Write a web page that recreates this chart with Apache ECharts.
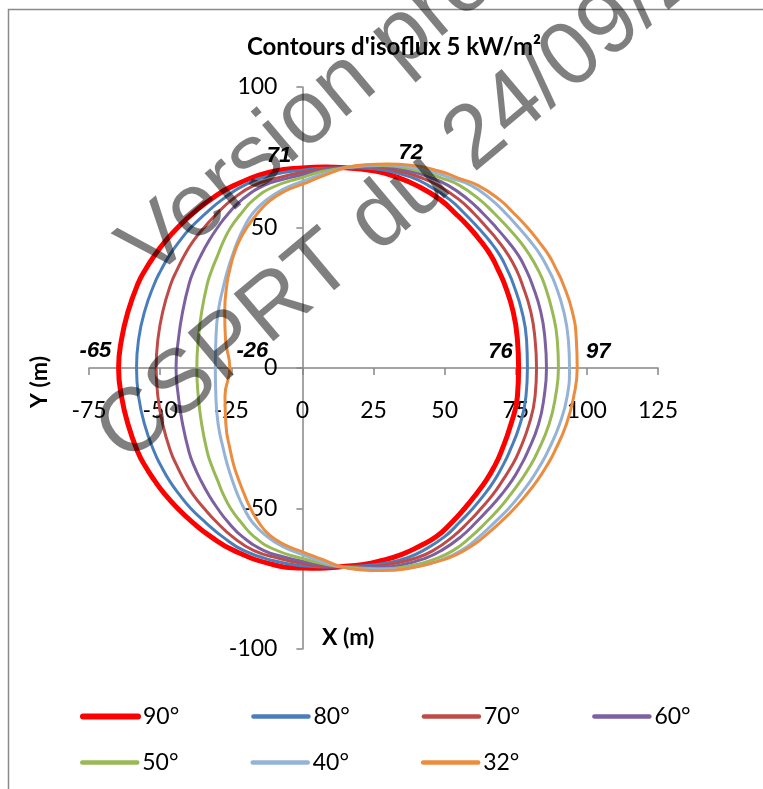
<!DOCTYPE html>
<html><head><meta charset="utf-8">
<script src="https://cdn.jsdelivr.net/npm/echarts@6/dist/echarts.min.js"></script>
<style>html,body{margin:0;padding:0;background:#fff}#c{width:763px;height:789px}</style>
</head><body><div id="c"></div>
<script>
const chartTitle = "Contours d'isoflux 5 kW/m²";
const xTitle = 'X (m)';
const yTitle = 'Y (m)';
const seriesNames = ['90°', '80°', '70°', '60°', '50°', '40°', '32°'];

const s90 = [[15,71.3],[8,71.5],[0,71.2],[-10,70],[-24,65],[-32.2,60],[-38.5,55],[-43.8,50],[-48.3,45],[-52,40],[-55.2,35],[-57.8,30],[-61.3,20],[-63.6,10],[-64.6,0],[-63.6,-10],[-61.3,-20],[-57.8,-30],[-55.2,-35],[-52,-40],[-48.3,-45],[-43.8,-50],[-38.5,-55],[-32.2,-60],[-24,-65],[-10,-70],[0,-71.2],[6,-71.3],[13.5,-70.7],[21,-70],[28,-68.5],[35,-66.3],[41,-63.5],[47.1,-60],[52.5,-55],[57,-50],[61,-45],[64.6,-40],[67.5,-35],[69.8,-30],[73.3,-20],[75.6,-10],[76,0],[75.6,10],[74.1,20],[71,30],[68.8,35],[66.3,40],[62.8,45],[58.7,50],[53.8,55],[48.3,60],[40.1,65],[33,68],[26.1,70],[15,71.3]];
const s80 = [[15,71.3],[7,71.1],[0,70.4],[-10,68.8],[-20.5,65],[-28.1,60],[-34,55],[-39.2,50],[-43.3,45],[-46.8,40],[-49.6,35],[-52,30],[-55.5,20],[-57.6,10],[-58.3,0],[-57.6,-10],[-55.5,-20],[-52,-30],[-49.6,-35],[-46.8,-40],[-43.3,-45],[-39.2,-50],[-34,-55],[-28.1,-60],[-20.5,-65],[-10,-68.6],[0,-70.4],[7,-70.8],[13.5,-70.7],[22,-70.4],[30,-69.3],[37,-67.5],[42.4,-65],[50,-60],[55.2,-55],[59.9,-50],[64,-45],[67.5,-40],[70.3,-35],[72.7,-30],[76.5,-20],[78.6,-10],[79.1,0],[78.8,10],[77.2,20],[74.1,30],[72,35],[69.5,40],[66,45],[61.7,50],[57,55],[51.7,60],[44.2,65],[38,68],[30.8,70],[22,71.2],[15,71.3]];
const s70 = [[15,71.3],[7,70.8],[0,69.6],[-8,67.8],[-17,65],[-24.6,60],[-30,55],[-34.5,50],[-38.5,45],[-41.5,40],[-44,35],[-46.2,30],[-49.1,20],[-50.8,10],[-51.4,0],[-50.8,-10],[-49.1,-20],[-46.2,-30],[-44,-35],[-41.5,-40],[-38.5,-45],[-34.5,-50],[-30,-55],[-24.6,-60],[-17,-65],[-8,-67.8],[0,-69.6],[7,-70.5],[13.5,-70.7],[24,-70.6],[32,-69.6],[40,-67.6],[45.9,-65],[52.9,-60],[58.2,-55],[62.8,-50],[67,-45],[70.4,-40],[73.5,-35],[76,-30],[79.7,-20],[81.8,-10],[82.3,0],[81.8,10],[80.3,20],[77.2,30],[75.2,35],[72.5,40],[69,45],[64.8,50],[60.3,55],[55,60],[47.7,65],[41.5,67.8],[34.3,70],[24,71.6],[15,71.3]];
const s60 = [[15,71.3],[7,70.4],[0,68.8],[-6.5,67.2],[-13.5,65],[-21.1,60],[-26,55],[-29.8,50],[-33,45],[-35.7,40],[-38,35],[-39.8,30],[-42.1,20],[-43.6,10],[-44.4,0],[-43.6,-10],[-42.1,-20],[-39.8,-30],[-38,-35],[-35.7,-40],[-33,-45],[-29.8,-50],[-26,-55],[-21.1,-60],[-13.5,-65],[-6.5,-67.2],[0,-68.8],[7,-70.1],[13.5,-70.7],[26,-71],[35,-70],[43,-67.8],[48.8,-65],[55.8,-60],[61,-55],[65.7,-50],[70,-45],[73.7,-40],[76.6,-35],[79.1,-30],[83,-20],[85,-10],[85.8,0],[85.3,10],[83.8,20],[80.7,30],[78.6,35],[76,40],[72.3,45],[68.1,50],[63.5,55],[58.2,60],[51.2,65],[45,67.8],[37.8,70],[26,71.9],[15,71.3]];
const s50 = [[15,71.3],[7,69.9],[0,67.8],[-10,64.5],[-17,60],[-21.5,55],[-25.2,50],[-27.8,45],[-29.8,40],[-31.8,35],[-33.4,30],[-35.4,20],[-36.6,10],[-37.1,0],[-36.6,-10],[-35.4,-20],[-33.4,-30],[-31.8,-35],[-29.8,-40],[-27.8,-45],[-25.2,-50],[-21.5,-55],[-17,-60],[-10,-64.5],[0,-67.8],[7,-69.6],[13.5,-70.7],[27,-71.4],[38,-70.4],[46.5,-68],[52.9,-65],[59.3,-60],[64.5,-55],[69.2,-50],[73.2,-45],[76.8,-40],[80,-35],[82.6,-30],[86.7,-20],[89,-10],[90,0],[89.6,10],[87.9,20],[85,30],[82.8,35],[80,40],[76.5,45],[72.2,50],[67.5,55],[62.2,60],[55.2,65],[49,67.6],[41.3,70],[28,72.1],[15,71.3]];
const s40 = [[15,71.3],[6,68.6],[0,66.4],[-7,63.5],[-13,59.5],[-17.5,55],[-20.5,50],[-22.8,45],[-24.6,40],[-26.2,35],[-27.5,30],[-29.6,20],[-30.4,10],[-30.6,0],[-30.4,-10],[-29.6,-20],[-27.5,-30],[-26.2,-35],[-24.6,-40],[-22.8,-45],[-20.5,-50],[-17.5,-55],[-13,-59.5],[-7,-63.5],[0,-66.4],[6,-68.6],[13.5,-70.7],[27,-71.7],[40,-70.7],[49,-68.2],[55.8,-65],[62.2,-60],[67.5,-55],[72.5,-50],[76.6,-45],[80.3,-40],[83.4,-35],[86.1,-30],[90.4,-20],[93.1,-10],[93.9,0],[93.5,10],[91.9,20],[88.8,30],[86.5,35],[83.8,40],[80.2,45],[76,50],[71.5,55],[66.3,60],[59.3,65],[52.5,67.5],[44.8,70],[29,72.3],[15,71.3]];
const s32 = [[15,71.3],[7,68.3],[0,65.4],[-6,63],[-11.5,59.5],[-15.8,55],[-19.5,50],[-22.3,45],[-24.2,40],[-25.5,35],[-26.5,30],[-27.3,20],[-27,10],[-25.5,0],[-27.2,-10],[-26.9,-20],[-25.2,-30],[-24,-35],[-22.3,-40],[-20.4,-45],[-18.2,-50],[-15.3,-55],[-11.5,-59.5],[-6,-63],[0,-65.4],[7,-68.1],[13.5,-70.7],[20,-71.8],[28,-72.1],[38,-71.2],[47,-69],[54,-66.5],[60,-63],[65,-59],[70,-54.5],[74.5,-50],[78.8,-45],[82.6,-40],[85.8,-35],[88.5,-30],[92.8,-20],[95.4,-10],[96.6,0],[96.3,10],[94.9,20],[91.6,30],[89.3,35],[86.7,40],[83.1,45],[79.1,50],[74.4,55],[69.2,60],[61.7,65],[55,67.5],[48.3,70],[38,72.2],[30,72.6],[22,72.3],[15,71.3]];

const labelPoints = [[3,71],[37,72],[-65,0],[-26,0],[76,0],[97,0]];
const labelTexts = ['71','72','-65','-26','76','97'];
const watermarkLines = ['Version provisoire', 'CSPRT du 24/09/2014'];

const seriesData = [s90, s80, s70, s60, s50, s40, s32];
const colors = ['#FF0000','#4A7EBB','#BE4B48','#7D60A0','#98B954','#95B3D7','#EB8C3E'];
const widths = [5, 3, 3, 3, 3, 3, 3];
const legendWidths = [6, 4.5, 4.5, 4.5, 4.5, 4.5, 4.5];
const labelOffsets = [[-32,-13],[3,-13],[-22,-17],[24,-17],[-18,-16],[20,-16]];
const FONT = "Lato, 'Liberation Sans', sans-serif";
const axisGray = '#868686';

const chart = echarts.init(document.getElementById('c'), null, {renderer:'canvas'});

const series = seriesData.map((d, i) => ({
  type: 'line', name: seriesNames[i], data: d,
  symbol: 'none', showSymbol: false, smooth: 0.5,
  lineStyle: {color: colors[i], width: widths[i], cap: 'round', join: 'round'},
  itemStyle: {color: colors[i]},
  z: 2 + i
}));
series.push({
  type: 'scatter', name: 'labels', symbolSize: 0, silent: true, z: 20,
  itemStyle: {opacity: 1, color: '#000'},
  data: labelPoints.map((p, i) => ({
    value: p,
    label: {show: true, formatter: labelTexts[i], offset: labelOffsets[i], position: 'inside'}
  })),
  label: {color: '#000', opacity: 1, textBorderWidth: 0, fontSize: 22, fontWeight: 'bold', fontStyle: 'italic',
          fontFamily: "'Liberation Sans', Arial, sans-serif"}
});

const legendItem = (name) => {
  const i = seriesNames.indexOf(name);
  return {name: name, lineStyle: {width: legendWidths[i], cap: 'round', color: colors[i]}};
};
const legendCommon = {
  left: 75, itemWidth: 55, itemHeight: 14, itemGap: 72, orient: 'horizontal',
  textStyle: {fontSize: 23, color: '#000', fontFamily: FONT},
  itemStyle: {color: 'rgba(0,0,0,0)', borderColor: 'rgba(0,0,0,0)', borderWidth: 0, opacity: 0},
  selectedMode: false
};

const option = {
  animation: false,
  backgroundColor: '#fff',
  grid: {left: 89, top: 87, width: 569, height: 562, containLabel: false},
  xAxis: {
    type: 'value', min: -75, max: 125, interval: 25, position: 'bottom', offset: -281,
    axisLine: {show: true, onZero: false, lineStyle: {color: axisGray, width: 1.5}},
    axisTick: {show: true, inside: false, length: 7, lineStyle: {color: axisGray, width: 1.5}},
    axisLabel: {margin: 31, color: '#000', fontSize: 23, fontFamily: FONT, showMinLabel: true, showMaxLabel: true},
    splitLine: {show: false}
  },
  yAxis: {
    type: 'value', min: -100, max: 100, interval: 50, position: 'left', offset: -213.4,
    axisLine: {show: true, onZero: false, lineStyle: {color: axisGray, width: 1.5}},
    axisTick: {show: true, inside: false, length: 6, lineStyle: {color: axisGray, width: 1.5}},
    axisLabel: {margin: 25, color: '#000', fontSize: 23, fontFamily: FONT, showMinLabel: true, showMaxLabel: true},
    splitLine: {show: false}
  },
  legend: [
    Object.assign({}, legendCommon, {top: 700, data: seriesNames.slice(0, 4).map(legendItem)}),
    Object.assign({}, legendCommon, {top: 746, data: seriesNames.slice(4).map(legendItem)})
  ],
  series: series,
  graphic: [
    {type: 'rect', z: -10, silent: true, shape: {x: 8.5, y: 9.5, width: 800, height: 800},
     style: {fill: 'none', stroke: '#8a8a8a', lineWidth: 1.5}},
    {type: 'text', x: 394, y: 47, z: 50, style: {text: chartTitle, textAlign: 'center', textVerticalAlign: 'middle',
      font: "bold 24px " + FONT, fill: '#000'}},
    {type: 'text', x: 40, y: 382, rotation: Math.PI / 2, z: 50, style: {text: yTitle, textAlign: 'center', textVerticalAlign: 'middle',
      font: "bold 23px " + FONT, fill: '#000'}},
    {type: 'text', x: 322, y: 638, z: 50, style: {text: xTitle, textAlign: 'left', textVerticalAlign: 'middle',
      font: "bold 23px " + FONT, fill: '#000'}},
    {type: 'text', x: 134, y: 262, rotation: 40 * Math.PI / 180, z: 100, silent: true,
      style: {text: watermarkLines[0], textAlign: 'left', textVerticalAlign: 'middle',
      font: "90px 'Liberation Sans', Arial, sans-serif", fill: 'rgba(0,0,0,0.5)'}},
    {type: 'text', x: 110, y: 446, rotation: 40 * Math.PI / 180, z: 100, silent: true,
      style: {text: watermarkLines[1], textAlign: 'left', textVerticalAlign: 'middle',
      font: "90px 'Liberation Sans', Arial, sans-serif", fill: 'rgba(0,0,0,0.5)'}}
  ]
};
chart.setOption(option);
</script>
</body></html>
